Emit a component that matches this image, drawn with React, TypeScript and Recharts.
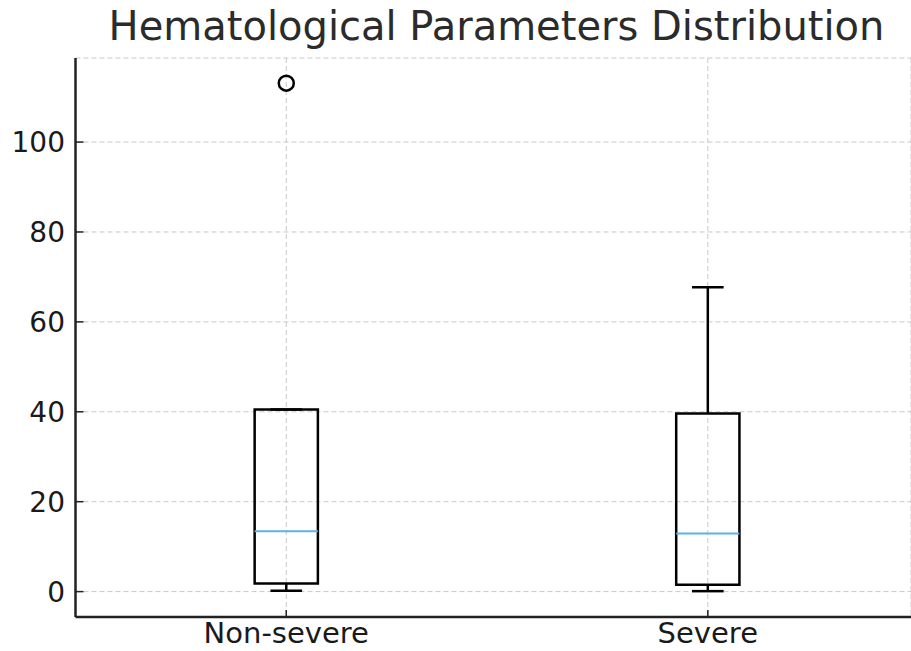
import React from 'react';
import { ScatterChart, Scatter, XAxis, YAxis, CartesianGrid, ReferenceArea, ReferenceLine } from 'recharts';

const categories = ['Non-severe', 'Severe'];
const positions = [1, 2];
const whiskerLow = [0.2, 0.1];
const q1 = [1.8, 1.5];
const median = [13.4, 12.9];
const q3 = [40.5, 39.6];
const whiskerHigh = [40.5, 67.7];
const outliers = [[113.1], []];
const yTicks = [0, 20, 40, 60, 80, 100];

const W = 911;
const H = 651;
const BOX_HALF = 0.075;
const CAP_HALF = 0.0375;
const FONT = 'DejaVu Sans, sans-serif';
const LW = 2.5;

const outlierData = outliers.flatMap((vals, i) => vals.map((v) => ({ x: positions[i], y: v })));

const OutlierShape = (props: any) => (
  <circle cx={props.cx} cy={props.cy} r={7.5} fill="none" stroke="#000" strokeWidth={LW} />
);

export default function App() {
  return (
    <div style={{ position: 'absolute', left: 0, top: 0, width: W, height: H, background: '#fff' }}>
      <ScatterChart width={W} height={H} margin={{ top: 58, right: 0, bottom: 0, left: 0 }}>
        <CartesianGrid stroke="#c8c8c8" strokeDasharray="5 3" strokeWidth={1} />
        <XAxis
          type="number"
          dataKey="x"
          domain={[0.5, 2.482]}
          allowDataOverflow
          ticks={positions}
          tickFormatter={(v: number) => categories[positions.indexOf(v)] ?? ''}
          height={34}
          tickSize={-7}
          tickMargin={12}
          axisLine={{ stroke: '#222', strokeWidth: 2.5 }}
          tickLine={{ stroke: '#222', strokeWidth: 1.5 }}
          tick={{ fontSize: 29, fill: '#1a1a1a', fontFamily: FONT }}
        />
        <YAxis
          type="number"
          dataKey="y"
          domain={[-5.65, 118.7]}
          allowDataOverflow
          ticks={yTicks}
          width={75.5}
          tickSize={-8}
          tickMargin={18.5}
          axisLine={{ stroke: '#222', strokeWidth: 2.5 }}
          tickLine={{ stroke: '#222', strokeWidth: 1.5 }}
          tick={{ fontSize: 28, fill: '#1a1a1a', fontFamily: FONT }}
        />
        {positions.map((p, i) => (
          <ReferenceLine
            key={'wl' + i}
            segment={[{ x: p, y: whiskerLow[i] }, { x: p, y: q1[i] }]}
            stroke="#000"
            strokeWidth={LW}
          />
        ))}
        {positions.map((p, i) => (
          <ReferenceLine
            key={'wh' + i}
            segment={[{ x: p, y: q3[i] }, { x: p, y: whiskerHigh[i] }]}
            stroke="#000"
            strokeWidth={LW}
          />
        ))}
        {positions.map((p, i) => (
          <ReferenceLine
            key={'cl' + i}
            segment={[{ x: p - CAP_HALF, y: whiskerLow[i] }, { x: p + CAP_HALF, y: whiskerLow[i] }]}
            stroke="#000"
            strokeWidth={LW}
          />
        ))}
        {positions.map((p, i) => (
          <ReferenceLine
            key={'ch' + i}
            segment={[{ x: p - CAP_HALF, y: whiskerHigh[i] }, { x: p + CAP_HALF, y: whiskerHigh[i] }]}
            stroke="#000"
            strokeWidth={LW}
          />
        ))}
        {positions.map((p, i) => (
          <ReferenceArea
            key={'box' + i}
            x1={p - BOX_HALF}
            x2={p + BOX_HALF}
            y1={q1[i]}
            y2={q3[i]}
            fill="none"
            fillOpacity={0}
            stroke="#000"
            strokeWidth={LW}
          />
        ))}
        {positions.map((p, i) => (
          <ReferenceLine
            key={'med' + i}
            segment={[{ x: p - BOX_HALF, y: median[i] }, { x: p + BOX_HALF, y: median[i] }]}
            stroke="#5DB2E6"
            strokeWidth={2}
          />
        ))}
        <Scatter data={outlierData} isAnimationActive={false} shape={OutlierShape} />
      </ScatterChart>
      <svg width={W} height={60} style={{ position: 'absolute', left: 0, top: 0 }}>
        <text x={496.5} y={40} textAnchor="middle" fontSize={40} fill="#2b2b2b" fontFamily={FONT}>
          Hematological Parameters Distribution
        </text>
      </svg>
    </div>
  );
}
